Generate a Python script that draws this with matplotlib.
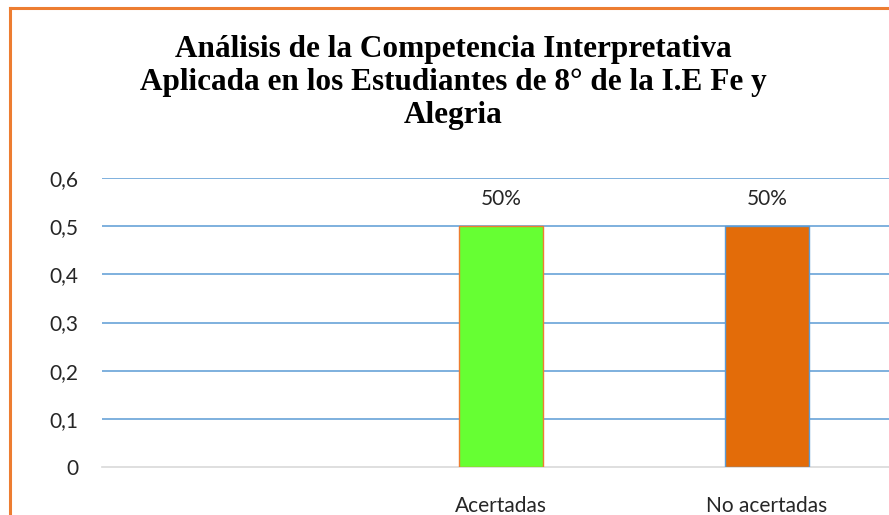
import matplotlib
matplotlib.use("Agg")
import matplotlib.pyplot as plt
from matplotlib.lines import Line2D

CATEGORIES = ["", "Acertadas", "No acertadas"]
VALUES = [0.0, 0.5, 0.5]
LABELS = ["", "50%", "50%"]
Y_TICKS = [0, 0.1, 0.2, 0.3, 0.4, 0.5, 0.6]
TITLE = ("Análisis de la Competencia Interpretativa\n"
         "Aplicada en los Estudiantes de 8° de la I.E Fe y\n"
         "Alegria")

BAR_COLORS = ["#66FF33", "#66FF33", "#E36C09"]
EDGE_COLORS = ["#ED7D31", "#ED7D31", "#5B9BD5"]

W, H = 889, 515
fig = plt.figure(figsize=(W / 100, H / 100), dpi=100)
ax = fig.add_axes([102 / W, 1 - 467 / H, 798 / W, 289 / H])

x = list(range(len(CATEGORIES)))
bars = ax.bar(x, VALUES, width=0.316, color=BAR_COLORS,
              edgecolor=EDGE_COLORS, linewidth=[0 if v == 0 else 1 for v in VALUES],
              zorder=3)

for b, lab in zip(bars, LABELS):
    if lab:
        ax.annotate(lab, (b.get_x() + b.get_width() / 2, b.get_height()),
                    xytext=(0, 12), textcoords="offset points",
                    ha="center", va="bottom", fontsize=15,
                    family="Lato", color="#262626")

ax.set_xlim(-0.5, 2.5)
ax.set_ylim(0, 0.6)
ax.set_yticks(Y_TICKS)
ax.set_yticklabels([f"{t:g}".replace(".", ",") for t in Y_TICKS],
                   family="Lato", fontsize=15, color="#262626")
ax.set_xticks(x)
ax.set_xticklabels(CATEGORIES, family="Lato", fontsize=15, color="#262626")
ax.tick_params(axis="both", length=0)
ax.tick_params(axis="y", pad=17)
ax.tick_params(axis="x", pad=21)

for t in Y_TICKS[1:]:
    ax.axhline(t, color="#5B9BD5", linewidth=1.1, zorder=1)
for s in ["top", "right", "left"]:
    ax.spines[s].set_visible(False)
ax.spines["bottom"].set_color("#D9D9D9")
ax.spines["bottom"].set_linewidth(1.2)

fig.text(453 / W, 1 - 35 / H, TITLE, ha="center", va="top",
         family="Liberation Serif", weight="bold", fontsize=22.5,
         linespacing=1.19)

# orange chart-area border (left and top edges visible)
fig.add_artist(Line2D([10 / W, 10 / W], [0, 1 - 8 / H], transform=fig.transFigure,
                      color="#ED7D31", linewidth=2.2))
fig.add_artist(Line2D([10 / W, 1], [1 - 8 / H, 1 - 8 / H], transform=fig.transFigure,
                      color="#ED7D31", linewidth=2.2))

fig.savefig("out.png", dpi=100)
